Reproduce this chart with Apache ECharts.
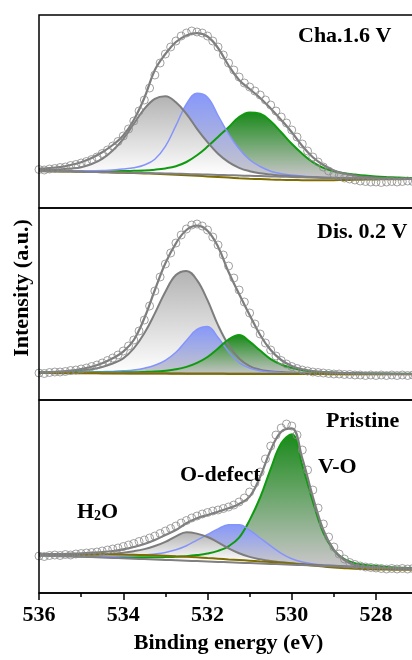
<!DOCTYPE html>
<html>
<head>
<meta charset="utf-8">
<script src="https://cdn.jsdelivr.net/npm/echarts@6/dist/echarts.min.js"></script>
<style>html,body{margin:0;padding:0;background:#fff;}#c{width:412px;height:660px;}</style>
</head>
<body>
<div id="c"></div>
<script>
// Binding energy grids (eV)
const E = [536,535.75,535.5,535.25,535,534.75,534.5,534.25,534,533.75,533.5,533.25,533,532.75,532.5,532.25,532,531.75,531.5,531.25,531,530.75,530.5,530.25,530,529.75,529.5,529.25,529,528.75,528.5,528.25,528,527.75,527.5,527.25,527];
const E8 = [536,535.875,535.75,535.625,535.5,535.375,535.25,535.125,535,534.875,534.75,534.625,534.5,534.375,534.25,534.125,534,533.875,533.75,533.625,533.5,533.375,533.25,533.125,533,532.875,532.75,532.625,532.5,532.375,532.25,532.125,532,531.875,531.75,531.625,531.5,531.375,531.25,531.125,531,530.875,530.75,530.625,530.5,530.375,530.25,530.125,530,529.875,529.75,529.625,529.5,529.375,529.25,529.125,529,528.875,528.75,528.625,528.5,528.375,528.25,528.125,528,527.875,527.75,527.625,527.5,527.375,527.25,527.125,527];
const xTicks = [536,534,532,530,528];

// Panel 1: Cha.1.6 V  (background, component heights above background, fit envelope, measured points)
const chaBase = [37,36.8,36.6,36.4,36.2,36,35.8,35.6,35.4,35.2,35,34.8,34.6,34.3,34,33.7,33.4,33.1,32.8,32.5,32.2,31.9,31.6,31.3,31,30.7,30.4,30.1,29.9,29.7,29.5,29.4,29.3,29.2,29.1,29,29];
const chaOlive = [37,36.8,36.6,36.4,36.2,36,35.8,35.5,35.2,34.9,34.6,34.2,33.8,33.3,32.8,32.2,31.6,31,30.4,29.8,29.3,28.9,28.5,28.2,28,27.8,27.7,27.7,27.8,28,28.2,28.4,28.6,28.7,28.8,28.9,29];
const chaGray = [1,1.3,2,3,4.6,8,13.4,21.9,33.8,49,64.2,74.4,77.2,71.5,60.2,45.5,32.4,21.1,13,7.7,4.6,2.8,1.8,1.2,0.8,0.5,0.4,0.3,0.3,0.2,0.2,0.2,0.1,0.1,0.1,0.1,0.1];
const chaBlue = [0.4,0.5,0.6,0.8,1,1.3,1.6,2.5,3.5,5,8,14,27,48,70,81,77.4,59.4,41.4,26.7,16,9.6,5.2,3,2,1.3,0.8,0.5,0.4,0.3,0.3,0.2,0.2,0.2,0.1,0.1,0.1];
const chaGreen = [0.5,0.5,0.6,0.7,0.8,0.9,1,1.2,1.5,2,2.5,3.5,5,7.5,12,19,28,38,48,58.5,63.3,62.3,55.2,44.5,33.2,23.5,15.4,10.1,6.9,5.1,4,3,2.3,1.8,1.4,1.1,0.9];
const chaFit = [39.2,40,40.8,43,45.8,50,55.8,63,72.5,88,110,138,154,166,172.5,174.8,171.5,160,142.5,128,119,110,99.5,88,75.8,62,50.8,43,37.5,34.5,32.5,31,30.2,29.7,29.2,29,29];
const chaPts = [38.5,38,39,39.5,40.5,41,42.5,43.5,45,46.5,48.5,51,54.5,58,62,66.5,72,79,87,97,108,120,133,145,154,161,167,172,175,177,176,175,172,167,161,153,145,138,131,125,121,117,113,108,103,97,91,85,78,71,64,57,51,46,41,37,34,32,30,29,28,27,26.5,26,26,25.5,26,26.5,26,26.5,27,26.5,27];

// Panel 2: Dis. 0.2 V
const disBase = [27.3,27.2,27.2,27.1,27.1,27.0,27.0,26.9,26.9,26.8,26.8,26.7,26.7,26.7,26.6,26.6,26.5,26.5,26.5,26.4,26.4,26.4,26.3,26.3,26.3,26.2,26.2,26.2,26.2,26.1,26.1,26.1,26.1,26.0,26.0,26.0,26.0];
const disOlive = [26.9,26.9,26.8,26.8,26.7,26.7,26.6,26.6,26.5,26.5,26.4,26.4,26.4,26.3,26.3,26.2,26.2,26.2,26.1,26.1,26.1,26.0,26.0,26.0,25.9,25.9,25.9,25.9,25.8,25.8,25.8,25.8,25.7,25.7,25.7,25.7,25.7];
const disGray = [0.5,0.7,1,1.5,2.5,3.8,6,9.6,14.7,24.8,39.9,59.9,81.6,98.3,102.5,93.3,73.3,48.3,28.4,15.1,7.5,4,2.5,1.6,1.1,0.8,0.6,0.5,0.4,0.3,0.3,0.2,0.2,0.2,0.1,0.1,0.1];
const disBlue = [0.3,0.4,0.5,0.6,0.8,1,1.3,1.7,2.3,3.3,5,8,13,21,33,44,47,36,22,11,5.5,2.8,1.6,1,0.7,0.5,0.4,0.3,0.3,0.2,0.2,0.2,0.1,0.1,0.1,0.1,0.1];
const disGreen = [0.2,0.2,0.3,0.3,0.4,0.5,0.5,0.6,0.8,1,1.3,1.8,2.6,4,6.5,10.5,16.5,25,34,38.5,32,23,14.5,9.2,5.8,3.6,2.4,1.7,1.2,0.9,0.7,0.5,0.4,0.4,0.3,0.3,0.2];
const disFit = [27.3,27.7,28.3,29.3,31,33.3,36.7,41.7,48.3,60,81.7,110,136.7,156.7,170,174.3,169.3,153.3,128,106,85,65,50,40,34,30.7,29,28,27.3,27,26.7,26.5,26.3,26.2,26.1,26,26];
const disPts = [27,26.5,27.5,28,28,28.5,29.5,30,31,32,33.5,35,37,39.5,42,45,49,54,60,69,80,94,109,123,136,147,157,165,171,175,176,174,170,163,155,145,134,122,110,98,87,76,66,57,50,44,39.5,36,33.5,31.5,30,29,28,27.5,27,26.5,26,26,25.5,25.5,25,25,24.5,25,24.5,25,24.5,25,24.5,25,24.5,25,24.5];

// Panel 3: Pristine
const priBase = [37.3,37.1,36.8,36.5,36.2,35.9,35.5,35.1,34.7,34.3,33.9,33.5,33.1,32.7,32.3,31.9,31.5,31.1,30.7,30.3,29.9,29.5,29.1,28.7,28.3,27.9,27.5,27.1,26.7,26.3,25.9,25.5,25.1,24.8,24.5,24.3,24.1];
const priOlive = [39,39,39,39,38.9,38.8,38.7,38.6,38.4,38.2,38,37.7,37.3,36.8,36.3,35.7,35,34.3,33.6,33,32.3,31.6,31,30.3,29.5,28.5,27.5,26.5,25.5,24.8,24.2,23.9,23.6,23.4,23.3,23.2,23.2];
const priGray = [0.8,1,1.2,1.5,1.9,2.4,3.2,4.2,5.6,7.5,10,13.5,18,24,28.5,27.5,24.5,19.5,14,9.5,6.2,4.2,2.8,2,1.4,1,0.8,0.6,0.5,0.4,0.3,0.3,0.2,0.2,0.2,0.1,0.1];
const priBlue = [0.3,0.4,0.5,0.6,0.8,1,1.3,1.7,2.2,3,4,5.5,7.5,10.5,15,21,27,33,37.5,38,33,25.5,18,11,6,3,1.6,1,0.7,0.5,0.4,0.3,0.3,0.2,0.2,0.1,0.1];
const priGreen = [0.4,0.4,0.5,0.5,0.6,0.7,0.8,0.9,1.2,1.5,1.8,2.2,2.8,3.5,4.5,6,8,11,16,25,43,66,95,121,130.5,100,64,33,16,7.5,4,2.6,1.8,1.3,1,0.8,0.7];
const priFit = [39,39,39,39.3,39.7,40.3,41,42,43.7,46,49,53,58,63,69.7,74.7,78,81.3,84.7,89,96.3,116.3,143,161.3,164.7,134.7,96.3,63,43,33,28,26.3,25.7,25,24.7,24.5,24.5];
const priPts = [37,36.5,37.5,38,37.5,38.5,38,39,39.5,40,40.5,41,42,43,44,45,46.5,48,49.5,51.5,53,55,57,59.5,62,64.5,67,70,72.5,75,77,79,80.5,82,83,84.5,86,88,91,95,101,110,121,134,147,158,165,169,167,158,143,123,103,85,69,56,46,39,34,30.5,28.5,27,26,25.5,25,24.5,24,24.5,24,24.5,24,24.5,24];

const panelLabels = ['Cha.1.6 V', 'Dis. 0.2 V', 'Pristine'];
const peakLabels = ['V-O', 'O-defect'];

const FONT = "'Liberation Serif','Times New Roman',serif";
const pairs = (xs, ys) => xs.map((x, i) => [x, ys[i]]);
const onBase = (base, h) => base.map((b, i) => b + h[i]);

const panels = [
  {base: chaBase, olive: chaOlive, gray: chaGray, blue: chaBlue, green: chaGreen, fit: chaFit, pts: chaPts,
   order: ['green', 'blue', 'gray'], oliveOnTop: false},
  {base: disBase, olive: disOlive, gray: disGray, blue: disBlue, green: disGreen, fit: disFit, pts: disPts,
   order: ['gray', 'blue', 'green'], oliveOnTop: true},
  {base: priBase, olive: priOlive, gray: priGray, blue: priBlue, green: priGreen, fit: priFit, pts: priPts,
   order: ['green', 'blue', 'gray'], oliveOnTop: false}
];
const compStyle = {
  green: {line: '#109a10', width: 2, top: '#1a8a1a', bot: '#c4c4c4'},
  blue: {line: '#8494fb', width: 1.5, top: '#8798fa', bot: '#c6c6ca'},
  gray: {line: '#7d7d7d', width: 2, top: '#b3b3b3', bot: '#ffffff'}
};
const gridPos = [{top: 15, height: 193}, {top: 208, height: 192}, {top: 400, height: 193}];
const PX_PER_EV = 42.125;

const grids = gridPos.map(g => ({left: 39, width: 10 * PX_PER_EV, top: g.top, height: g.height,
  outerBoundsMode: 'none', containLabel: false, z: 10,
  show: true, borderColor: '#000', borderWidth: 1.5, backgroundColor: 'transparent'}));
const xAxes = gridPos.map((g, i) => {
  const bottom = i === 2;
  return {
    gridIndex: i, type: 'value', inverse: true, min: 526, max: 536, interval: 2, z: 10,
    show: bottom,
    axisLine: {show: bottom, onZero: false, lineStyle: {color: '#000', width: 1.5}},
    axisTick: {show: bottom, length: 7, lineStyle: {color: '#000', width: 1.5}},
    minorTick: {show: bottom, splitNumber: 2, length: 4, lineStyle: {color: '#000', width: 1.5}},
    splitLine: {show: false}, minorSplitLine: {show: false},
    axisLabel: {show: bottom, fontSize: 22, fontWeight: 'bold', fontFamily: FONT, color: '#000', margin: 11,
      hideOverlap: false, formatter: v => (xTicks.indexOf(v) >= 0 ? String(v) : '')}
  };
});
const yAxes = gridPos.map((g, i) => ({gridIndex: i, type: 'value', min: 0, max: g.height, show: false}));

const series = [];
const SM = 0.4;
panels.forEach((p, i) => {
  const ax = {xAxisIndex: i, yAxisIndex: i, symbol: 'none', smooth: SM, silent: true};
  const meanBase = p.base.reduce((a, b) => a + b, 0) / p.base.length;
  p.order.forEach(key => {
    const st = compStyle[key];
    const vals = onBase(p.base, p[key]);
    const peak = Math.max.apply(null, vals);
    const s = Math.max(0.05, 1 - meanBase / peak);
    series.push(Object.assign({type: 'line', data: pairs(E, vals),
      lineStyle: {color: st.line, width: st.width},
      areaStyle: {opacity: 1, color: new echarts.graphic.LinearGradient(0, 0, 0, 1,
        [{offset: 0, color: st.top}, {offset: s, color: st.bot}, {offset: 1, color: st.bot}])}}, ax));
  });
  // white mask below the background line
  series.push(Object.assign({type: 'line', data: pairs(E, p.base.map(b => b - 1.3)),
    lineStyle: {width: 0, opacity: 0}, areaStyle: {color: '#ffffff', opacity: 1}}, ax));
  const olive = Object.assign({type: 'line', data: pairs(E, p.olive), lineStyle: {color: '#7f6d00', width: 2}}, ax);
  const baseLine = Object.assign({type: 'line', data: pairs(E, p.base), lineStyle: {color: '#808080', width: 2}}, ax);
  if (p.oliveOnTop) { series.push(baseLine, olive); } else { series.push(olive, baseLine); }
  series.push(Object.assign({type: 'line', data: pairs(E, p.fit), lineStyle: {color: '#7d7d7d', width: 2.2}}, ax));
  series.push({type: 'scatter', xAxisIndex: i, yAxisIndex: i, silent: true, data: pairs(E8, p.pts),
    symbol: 'circle', symbolSize: 8, itemStyle: {color: 'rgba(0,0,0,0)', borderColor: '#8a8a8a', borderWidth: 1}, z: 5});
});

const txt = (text, x, y, align, extra) => Object.assign({type: 'text', x: x, y: y, z: 100,
  style: {text: text, fill: '#000', fontSize: 22, fontWeight: 'bold', fontFamily: FONT, align: align || 'left', verticalAlign: 'middle'}}, extra || {});

const graphic = [
  txt(panelLabels[0], 298, 36.5),
  txt(panelLabels[1], 317, 232),
  txt(panelLabels[2], 326, 421.5),
  txt(peakLabels[0], 318, 467),
  txt(peakLabels[1], 180, 475),
  {type: 'text', x: 77, y: 511, z: 100, style: {
    text: '{a|H}{b|2}{a|O}', align: 'left', verticalAlign: 'middle',
    rich: {
      a: {fontSize: 22, fontWeight: 'bold', fontFamily: FONT, fill: '#000', lineHeight: 24, verticalAlign: 'bottom'},
      b: {fontSize: 14, fontWeight: 'bold', fontFamily: FONT, fill: '#000', lineHeight: 8, verticalAlign: 'bottom'}
    }}},
  txt('Binding energy (eV)', 228.5, 643, 'center'),
  txt('Intensity (a.u.)', 22.5, 288, 'center', {rotation: Math.PI / 2})
];

const chart = echarts.init(document.getElementById('c'), null, {renderer: 'canvas', width: 412, height: 660});
chart.setOption({animation: false, backgroundColor: '#fff', grid: grids, xAxis: xAxes, yAxis: yAxes, series: series, graphic: graphic});
</script>
</body>
</html>
